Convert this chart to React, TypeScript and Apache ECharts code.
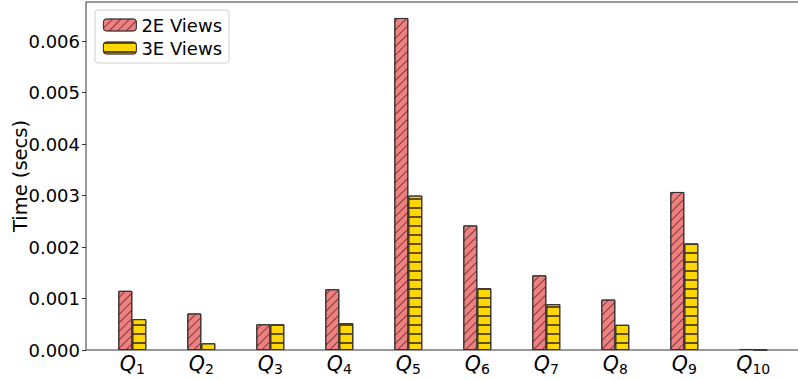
import React, { useEffect, useRef } from "react";
import * as echarts from "echarts";

// Query labels and timings (seconds) for the two view strategies
const queries = ["1", "2", "3", "4", "5", "6", "7", "8", "9", "10"];
const twoEViews = [0.00115, 0.00071, 0.0005, 0.00118, 0.00645, 0.00242, 0.00145, 0.00098, 0.00307, 0.00002];
const threeEViews = [0.0006, 0.00013, 0.0005, 0.00052, 0.003, 0.0012, 0.00089, 0.00049, 0.00207, 0.000005];
const yTicks = [0, 0.001, 0.002, 0.003, 0.004, 0.005, 0.006];

const FONT = "DejaVu Sans";

export default function App() {
  const ref = useRef<HTMLDivElement>(null);

  useEffect(() => {
    if (!ref.current) return;
    document.body.style.margin = "0";
    const chart = echarts.init(ref.current, null, { renderer: "svg" });
    chart.setOption({
      animation: false,
      backgroundColor: "#ffffff",
      textStyle: { fontFamily: FONT },
      grid: { left: 97.8, right: 10.2, top: 2, bottom: 30, outerBoundsMode: "none", containLabel: false },
      legend: {
        orient: "vertical",
        left: 95,
        top: 10,
        padding: [6, 7, 6, 8],
        itemWidth: 33,
        itemHeight: 12,
        itemGap: 5,
        itemTextGap: 13,
        borderColor: "#d0d0d0",
        borderWidth: 1,
        borderRadius: 3,
        backgroundColor: "#ffffff",
        itemStyle: { borderWidth: 0.8, borderColor: "#333" },
        textStyle: { fontFamily: FONT, fontSize: 18, color: "#000" },
        data: ["2E Views", "3E Views"],
      },
      xAxis: {
        type: "category",
        data: queries,
        axisLine: { show: false },
        axisTick: { show: false },
        axisLabel: {
          interval: 0,
          margin: 2,
          formatter: (v: string) => `{q|Q}{s|${v}}`,
          rich: {
            q: { fontFamily: FONT, fontStyle: "italic", fontSize: 20.5, lineHeight: 24, color: "#000" },
            s: { fontFamily: FONT, fontSize: 14, lineHeight: 16, verticalAlign: "bottom", color: "#000" },
          },
        },
      },
      yAxis: {
        type: "value",
        min: 0,
        max: 0.00676,
        interval: 0.001,
        offset: 11.8,
        name: "Time (secs)",
        nameLocation: "middle",
        nameGap: 56,
        nameMoveOverlap: false,
        nameTextStyle: { fontFamily: FONT, fontSize: 19.5, color: "#000" },
        splitLine: { show: false },
        axisLine: { show: false },
        axisTick: { show: true, length: 4, lineStyle: { color: "#333" }, customValues: yTicks },
        axisLabel: {
          margin: 6,
          fontFamily: FONT,
          fontSize: 18,
          color: "#000",
          customValues: yTicks,
          formatter: (v: number) => v.toFixed(3),
        },
      },
      series: [
        {
          name: "2E Views",
          type: "bar",
          data: twoEViews,
          barWidth: 14,
          barGap: "0%",
          itemStyle: {
            color: "#F08080",
            borderColor: "#333",
            borderWidth: 1,
            decal: {
              symbol: "rect",
              dashArrayX: [1, 0],
              dashArrayY: [1, 5],
              rotation: -Math.PI / 4,
              color: "rgba(70,30,30,0.7)",
            },
          },
        },
        {
          name: "3E Views",
          type: "bar",
          data: threeEViews,
          barWidth: 14,
          barGap: "0%",
          itemStyle: {
            color: "#FFD700",
            borderColor: "#333",
            borderWidth: 1,
            decal: {
              symbol: "rect",
              dashArrayX: [1, 0],
              dashArrayY: [1.2, 6.5],
              rotation: 0,
              color: "rgba(70,55,0,0.85)",
            },
          },
        },
      ],
      graphic: [
        {
          type: "rect",
          z: 10,
          silent: true,
          shape: { x: 86, y: 2, width: 714, height: 348 },
          style: { fill: "none", stroke: "#333", lineWidth: 1 },
        },
      ],
    });
    return () => chart.dispose();
  }, []);

  return <div ref={ref} style={{ width: 798, height: 380 }} />;
}
